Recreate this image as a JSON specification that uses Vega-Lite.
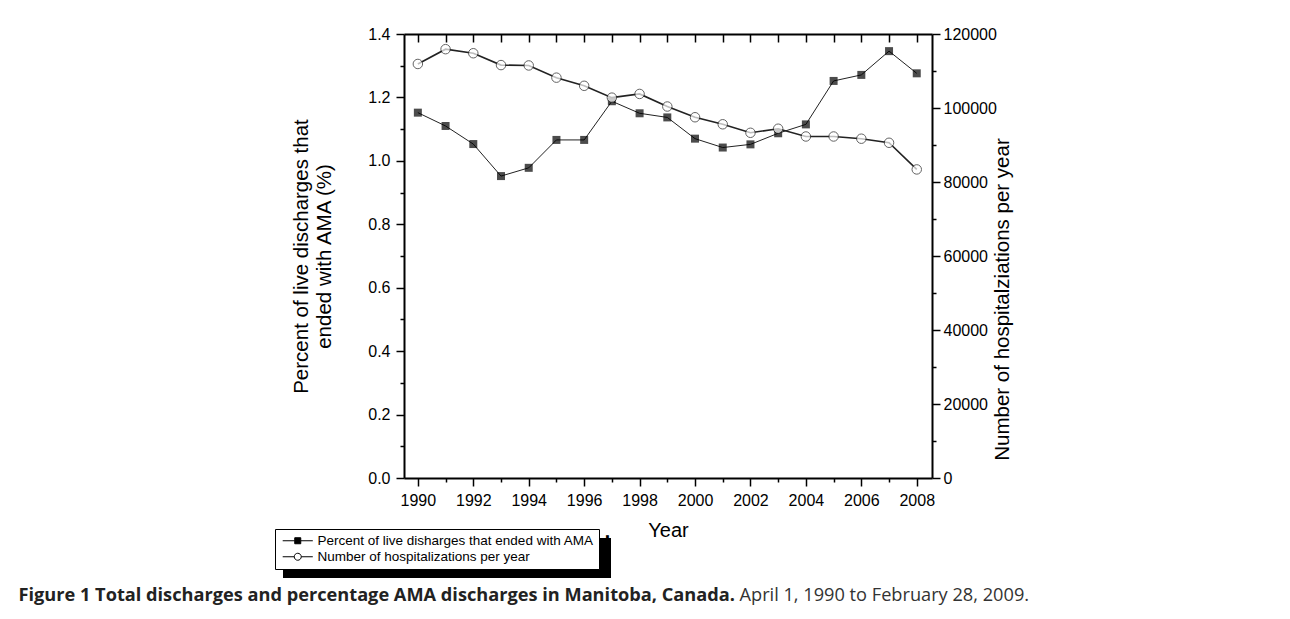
{
  "$schema": "https://vega.github.io/schema/vega-lite/v6.json",
  "autosize": {"type": "none"},
  "padding": {"left": 404, "top": 34, "right": 358, "bottom": 141},
  "width": 528,
  "height": 444,
  "background": "white",
  "config": {
    "view": {"stroke": null},
    "font": "Liberation Sans",
    "axis": {
      "domainColor": "black", "domainWidth": 2, "tickColor": "black", "tickWidth": 1.5,
      "labelColor": "black", "labelFont": "Liberation Sans", "labelFontSize": 16,
      "titleColor": "black", "titleFont": "Liberation Sans", "titleFontWeight": "normal",
      "grid": false
    }
  },
  "data": {"values": [
    {"year": 1990, "pct": 1.152, "hosp": 111900},
    {"year": 1991, "pct": 1.110, "hosp": 115900},
    {"year": 1992, "pct": 1.053, "hosp": 114800},
    {"year": 1993, "pct": 0.952, "hosp": 111600},
    {"year": 1994, "pct": 0.978, "hosp": 111500},
    {"year": 1995, "pct": 1.066, "hosp": 108200},
    {"year": 1996, "pct": 1.066, "hosp": 106000},
    {"year": 1997, "pct": 1.188, "hosp": 102800},
    {"year": 1998, "pct": 1.150, "hosp": 103800},
    {"year": 1999, "pct": 1.137, "hosp": 100400},
    {"year": 2000, "pct": 1.070, "hosp": 97500},
    {"year": 2001, "pct": 1.042, "hosp": 95600},
    {"year": 2002, "pct": 1.052, "hosp": 93300},
    {"year": 2003, "pct": 1.087, "hosp": 94400},
    {"year": 2004, "pct": 1.115, "hosp": 92300},
    {"year": 2005, "pct": 1.252, "hosp": 92300},
    {"year": 2006, "pct": 1.271, "hosp": 91700},
    {"year": 2007, "pct": 1.346, "hosp": 90600},
    {"year": 2008, "pct": 1.276, "hosp": 83400}
  ]},
  "layer": [
    {
      "mark": {"type": "line", "color": "#222222", "strokeWidth": 1},
      "encoding": {
        "x": {"field": "year", "type": "quantitative",
          "scale": {"domain": [1989.5, 2008.55], "nice": false, "zero": false},
          "axis": {"orient": "bottom", "values": [1990,1992,1994,1996,1998,2000,2002,2004,2006,2008], "format": "d",
            "tickSize": 8, "labelPadding": 6, "title": "Year", "titleFontSize": 20, "titlePadding": 12, "labelFlush": false, "labelOverlap": false}},
        "y": {"field": "pct", "type": "quantitative",
          "scale": {"domain": [0, 1.4], "nice": false, "zero": false},
          "axis": {"orient": "left", "values": [0,0.2,0.4,0.6,0.8,1.0,1.2,1.4], "format": ".1f",
            "tickSize": 8, "labelPadding": 6, "labelOverlap": false,
            "title": ["Percent of live discharges that", "ended with AMA (%)"], "titleFontSize": 20.5, "titleLineHeight": 23, "titlePadding": 33}}
      }
    },
    {
      "mark": {"type": "point", "shape": "square", "filled": true, "fill": "black", "stroke": null, "size": 64},
      "encoding": {
        "x": {"field": "year", "type": "quantitative",
          "axis": {"orient": "bottom", "values": [1991,1993,1995,1997,1999,2001,2003,2005,2007], "tickSize": 4, "labels": false, "domain": false, "title": null}},
        "y": {"field": "pct", "type": "quantitative",
          "scale": {"domain": [0, 1.4], "nice": false, "zero": false},
          "axis": {"orient": "left", "values": [0.1,0.3,0.5,0.7,0.9,1.1,1.3], "tickSize": 4, "labels": false, "domain": false, "title": null}}
      }
    },
    {
      "mark": {"type": "line", "color": "#222222", "strokeWidth": 1.6},
      "encoding": {
        "x": {"field": "year", "type": "quantitative",
          "axis": {"orient": "top", "values": [1990,1991,1992,1993,1994,1995,1996,1997,1998,1999,2000,2001,2002,2003,2004,2005,2006,2007,2008], "tickSize": -8, "labels": false,
            "title": "Figure 1 Total discharges and percentage AMA discharges in Manitoba, Canada.",
            "titleFont": "Open Sans", "titleFontSize": 18.2, "titleFontWeight": "bold", "titleColor": "#222222",
            "titleX": -386, "titleY": 566, "titleAlign": "left", "titleBaseline": "alphabetic", "titleAngle": 0}},
        "y": {"field": "hosp", "type": "quantitative",
          "scale": {"domain": [0, 120000], "nice": false, "zero": false},
          "axis": {"orient": "right", "values": [0,20000,40000,60000,80000,100000,120000], "format": "d",
            "tickSize": 8, "labelPadding": 3, "labelOverlap": false,
            "title": "Number of hospitalziations per year", "titleFontSize": 20.5, "titleAngle": 270, "titlePadding": 16, "titleY": 265}}
      }
    },
    {
      "mark": {"type": "point", "shape": "circle", "filled": true, "fill": "white", "stroke": "#222222", "strokeWidth": 1, "size": 90},
      "encoding": {
        "x": {"field": "year", "type": "quantitative",
          "axis": {"orient": "bottom", "ticks": false, "labels": false, "domain": false,
            "title": "April 1, 1990 to February 28, 2009.",
            "titleFont": "Open Sans", "titleFontSize": 18.2, "titleFontWeight": "normal", "titleColor": "#333333",
            "titleX": 335, "titleY": 122, "titleAlign": "left", "titleBaseline": "alphabetic", "titleAngle": 0}},
        "y": {"field": "hosp", "type": "quantitative",
          "scale": {"domain": [0, 120000], "nice": false, "zero": false},
          "axis": {"orient": "right", "values": [10000,30000,50000,70000,90000,110000], "tickSize": 4, "labels": false, "domain": false, "title": null}}
      }
    },
    {
      "transform": [{"filter": "datum.year < 0"}],
      "mark": {"type": "point", "filled": true, "strokeWidth": 1},
      "encoding": {
        "shape": {"datum": "Percent of live disharges that ended with AMA",
          "scale": {"domain": ["Percent of live disharges that ended with AMA", "Number of hospitalizations per year"],
            "range": ["M-4.3,0H-0.86M0.86,0H4.3M-0.86,-0.86H0.86V0.86H-0.86Z", "M-4.3,0H-1M1,0H4.3M-1,0A1,1,0,1,1,1,0A1,1,0,1,1,-1,0Z"]},
          "legend": {
            "orient": "none", "legendX": -129, "legendY": 495, "title": null, "zindex": 2,
            "fillColor": "white", "strokeColor": "black", "padding": 5, "cornerRadius": 0,
            "labelFont": "Liberation Sans", "labelFontSize": 13.5, "labelColor": "black", "labelLimit": 400,
            "symbolSize": 49, "symbolStrokeWidth": 1, "symbolOpacity": 1,
            "symbolOffset": 11, "labelOffset": 13, "rowPadding": 1
          }},
        "fill": {"datum": "Percent of live disharges that ended with AMA",
          "scale": {"domain": ["Percent of live disharges that ended with AMA", "Number of hospitalizations per year"], "range": ["black", "white"]}},
        "stroke": {"datum": "Percent of live disharges that ended with AMA",
          "scale": {"domain": ["Percent of live disharges that ended with AMA", "Number of hospitalizations per year"], "range": ["black", "black"]}}
      }
    },
    {
      "transform": [{"filter": "datum.year < 0"}],
      "mark": {"type": "point", "filled": true, "color": "black", "fill": "black", "stroke": "black", "strokeWidth": 0},
      "encoding": {
        "size": {"datum": "s1",
          "scale": {"type": "point", "domain": ["s1"], "range": [4, 4]},
          "legend": {
            "orient": "none", "legendX": -123, "legendY": 502, "title": null, "zindex": 1,
            "padding": 0,
            "labelFont": "Liberation Sans", "labelFontSize": 4, "labelColor": "black", "labelLimit": 400,
            "labelExpr": "'\u2588'",
            "symbolStrokeWidth": 0, "symbolStrokeColor": "black", "symbolFillColor": "black", "symbolOpacity": 1,
            "symbolOffset": 0, "labelOffset": 321,
            "symbolType": "M0,0H328V40H0Z"
          }}
      }
    }
  ],
  "resolve": {
    "scale": {"y": "independent"},
    "axis": {"x": "independent", "y": "independent"}
  }
}
